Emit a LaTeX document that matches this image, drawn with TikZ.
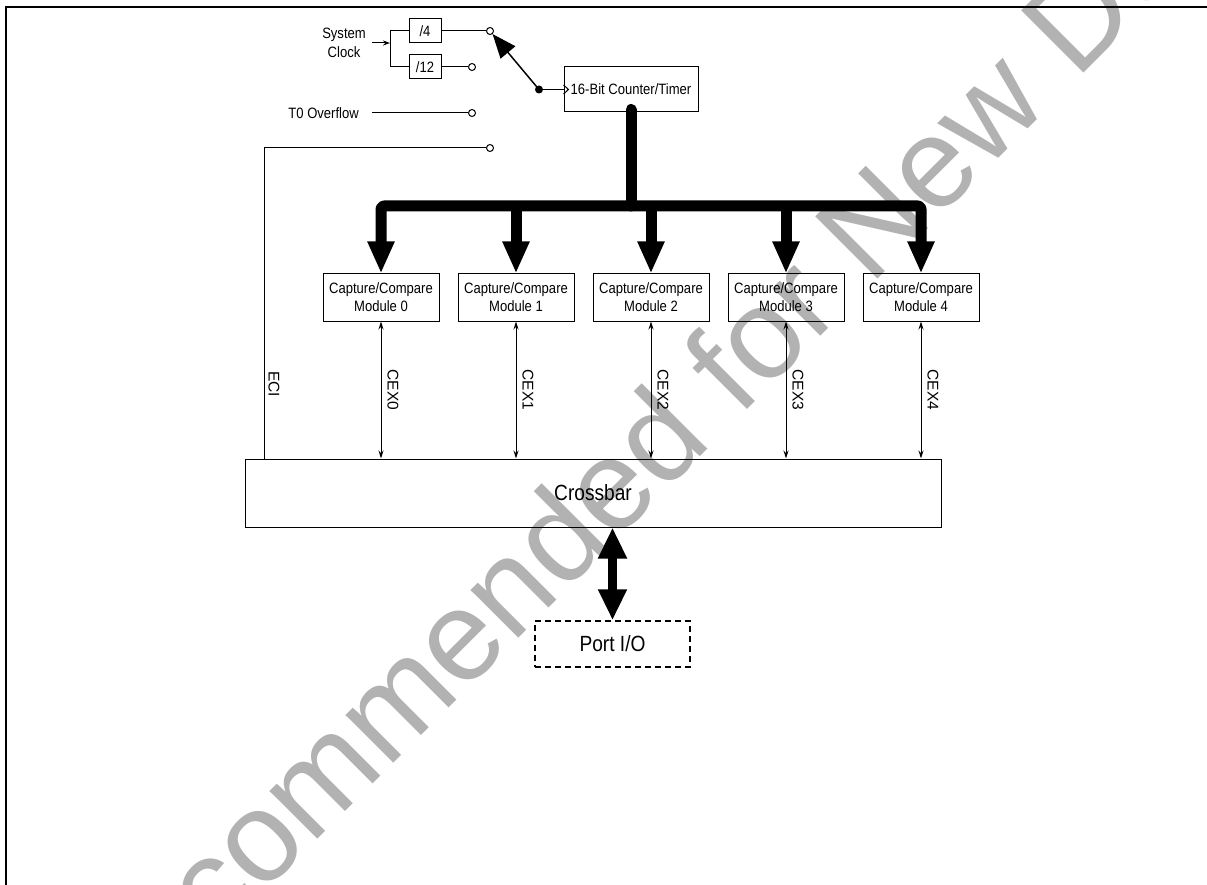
\documentclass[tikz,border=0pt]{standalone}
\usepackage{fontspec}
\setmainfont{Liberation Sans}
\newfontfamily\nfont{Liberation Sans}[FakeStretch=0.87]
\newfontfamily\wmfont{Liberation Sans}
\usetikzlibrary{arrows.meta}
\begin{document}
\begin{tikzpicture}[x=1pt,y=-1pt,
  thin/.style={line width=1pt},
  blk/.style={draw, line width=1pt, inner sep=0pt, align=center, font=\nfont\fontsize{15}{18}\selectfont},
  lbl/.style={inner sep=0pt, align=center, font=\nfont\fontsize{15}{19}\selectfont},
  term/.style={circle, draw, line width=1pt, inner sep=0pt, minimum size=7pt, fill=white},
  bigtip/.tip={Triangle[length=32pt,width=25pt]},
  bus/.style={line width=11pt, -bigtip},
  smalltip/.tip={Stealth[length=8pt,width=5pt]},
  cex/.style={line width=1pt, smalltip-smalltip},
  cexl/.style={inner sep=0pt, rotate=-90, font=\fontsize{15.5}{18}\selectfont},
  wm/.style={text=black!30, inner sep=0pt, font=\wmfont\fontsize{128}{128}\selectfont}
]
\useasboundingbox (0,0) rectangle (1207,885);
% watermark
\begin{scope}
\clip (0,0) rectangle (1207,885);
\node[wm, rotate=45, anchor=base] (wmark) at (669,488) {Not Recommended for New Designs};
\end{scope}
% frame
\draw[line width=2pt] (6,885) -- (6,7) -- (1207,7);

% clock source
\node[lbl] (sysclk) at (344,43) {System\\Clock};
\coordinate (br) at (390,43);
\draw[thin,-{Stealth[length=7pt,width=5pt]}] ([xshift=6pt]sysclk.east) -- (br);
\node[blk, minimum width=32pt, minimum height=24pt] (d4) at (425,31) {/4};
\node[blk, minimum width=32pt, minimum height=24pt] (d12) at (425,67) {/12};
\draw[thin] (br) |- (d4.west);
\draw[thin] (br) |- (d12.west);

\node[term] (t4) at (490,31) {};
\node[term] (t12) at (472,67) {};
\node[term] (tov) at (472,113) {};
\node[term] (teci) at (490,148) {};
\draw[thin] (d4.east) -- (t4.west);
\draw[thin] (d12.east) -- (t12.west);

\node[lbl, anchor=east] (t0) at (359,113) {T0 Overflow};
\draw[thin] ([xshift=13pt]t0.east) -- (tov.west);

% counter
\node[blk, minimum width=134pt, minimum height=45pt] (ctr) at (631,89.5) {16-Bit Counter/Timer};
\node[circle, fill, inner sep=0pt, minimum size=8pt] (dot) at (539,89.5) {};
\draw[thin] (dot) -- (ctr.west);
\draw[thin] (ctr.west) ++(0,-4.5) -- ++(5,4.5) -- ++(-5,4.5);
\draw[line width=1.5pt, -{Triangle[length=24pt,width=19pt]}] (dot.center) -- (t4);

% modules
\foreach \i/\x in {0/381,1/516,2/651,3/786,4/921}{
  \node[blk, minimum width=116pt, minimum height=47pt] (m\i) at (\x,297.5) {Capture/Compare\\Module \i};
}
% bus
\coordinate (bL) at (381,206);
\coordinate (bR) at (921,206);
\draw[line width=11pt, line cap=round] ([yshift=3pt]ctr.south) -- (ctr.south |- bL);
\draw[line width=11pt, line join=round, rounded corners=3pt, bigtip-bigtip] (m0.north) -- (bL) -- (bR) -- (m4.north);
\foreach \i in {1,2,3}{
  \draw[bus] (m\i.north |- bL) -- (m\i.north);
}

% crossbar
\node[draw, line width=1pt, minimum width=696pt, minimum height=68pt, inner sep=0pt,
      font=\nfont\fontsize{22}{26}\selectfont] (xb) at (593,493) {Crossbar};

\foreach \i in {0,...,4}{
  \draw[cex] (m\i.south) -- coordinate[midway] (c\i) (m\i.south |- xb.north);
  \node[cexl] (l\i) at ([xshift=12pt]c\i) {CEX\i};
}

% ECI
\coordinate (ecix) at (264,148);
\draw[thin] (teci.west) -- (ecix) -- coordinate[pos=0.76] (ce) (ecix |- xb.north);
\node[cexl] (leci) at ([xshift=10pt]ce) {ECI};

% port I/O
\node[draw, dash pattern=on 6pt off 4pt, line width=1.5pt, minimum width=155pt, minimum height=46pt,
      inner sep=0pt, font=\nfont\fontsize{22}{26}\selectfont] (pio) at (612.5,644) {Port I/O};
\draw[line width=9pt, {Triangle[length=31pt,width=27pt]}-{Triangle[length=31pt,width=27pt]}]
  (pio.north |- xb.south) -- (pio.north);
\end{tikzpicture}
\end{document}
